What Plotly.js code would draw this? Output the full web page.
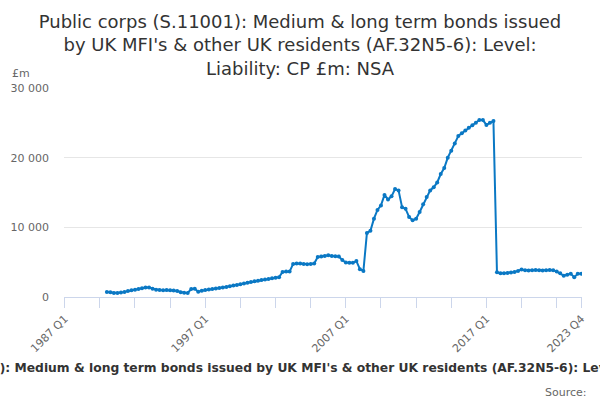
<!DOCTYPE html>
<html>
<head>
<meta charset="utf-8">
<script src="https://cdn.plot.ly/plotly-3.0.1.min.js"></script>
<style>
  html, body { margin: 0; padding: 0; background: #fff; }
  #chart { width: 600px; height: 400px; }
</style>
</head>
<body>
<div id="chart"></div>
<script>
// quarter labels on the axis, 1987 Q1 .. 2023 Q4
const firstYear = 1987, lastYear = 2023;
const quarters = [];
for (let y = firstYear; y <= lastYear; y++) for (let q = 1; q <= 4; q++) quarters.push(y + ' Q' + q);

// series starts in 1990 Q1, values in £m, one row per year
const seriesStart = '1990 Q1';
const level = [
  720, 670, 590, 560,        // 1990
  630, 720, 850, 980,        // 1991
  1050, 1150, 1250, 1380,    // 1992
  1380, 1200, 1050, 1000,    // 1993
  980, 990, 960, 930,        // 1994
  850, 680, 620, 580,        // 1995
  1150, 1180, 760, 900,      // 1996
  1000, 1080, 1150, 1230,    // 1997
  1300, 1380, 1450, 1550,    // 1998
  1650, 1730, 1830, 1950,    // 1999
  2050, 2150, 2250, 2350,    // 2000
  2450, 2500, 2600, 2680,    // 2001
  2750, 2850, 3600, 3650,    // 2002
  3650, 4750, 4800, 4800,    // 2003
  4750, 4700, 4750, 4800,    // 2004
  5750, 5800, 5900, 6000,    // 2005
  5900, 5850, 5800, 5300,    // 2006
  4950, 4900, 4900, 5150,    // 2007
  4000, 3750, 9200, 9500,    // 2008
  11250, 12500, 13150, 14650,// 2009
  14000, 14450, 15500, 15300,// 2010
  12900, 12650, 11500, 11000,// 2011
  11250, 12200, 13300, 14350,// 2012
  15300, 15750, 16450, 17650,// 2013
  18500, 20000, 21000, 22050,// 2014
  23100, 23500, 23900, 24300,// 2015
  24650, 25000, 25400, 25400,// 2016
  24700, 25000, 25250, 3550, // 2017
  3420, 3420, 3450, 3500,    // 2018
  3600, 3750, 3950, 3850,    // 2019
  3800, 3850, 3880, 3850,    // 2020
  3800, 3850, 3880, 3850,    // 2021
  3650, 3400, 3050, 3200,    // 2022
  3320, 2850, 3320, 3320     // 2023
];

const yTicks = [0, 10000, 20000, 30000];
const labelledTicks = ['1987 Q1', '1997 Q1', '2007 Q1', '2017 Q1', '2023 Q4'];

const seriesName = "Public corps (S.11001): Medium & long term bonds issued by UK MFI's & other UK residents (AF.32N5-6): Level: Liability: CP £m: NSA";
const titleText = "Public corps (S.11001): Medium & long term bonds issued<br>by UK MFI's & other UK residents (AF.32N5-6): Level:<br>Liability: CP £m: NSA";

const x = quarters.slice(quarters.indexOf(seriesStart), quarters.indexOf(seriesStart) + level.length);

// tick marks every 10 quarters, plus the last quarter
const tickvals = quarters.filter((q, i) => i % 10 === 0);
tickvals.push(quarters[quarters.length - 1]);
const ticktext = tickvals.map(t => labelledTicks.includes(t) ? t : '');

const blue = '#0a78c4';
const trace = {
  type: 'scatter', mode: 'lines+markers', x: x, y: level, name: seriesName,
  line: {color: blue, width: 2},
  marker: {color: blue, size: 4},
  hovertemplate: '%{x}: %{y:,}<extra></extra>'
};

const layout = {
  width: 600, height: 400,
  margin: {l: 64, r: 18, t: 88, b: 102.5},
  paper_bgcolor: '#fff', plot_bgcolor: '#fff',
  font: {family: 'DejaVu Sans, sans-serif', color: '#666', size: 11},
  separators: '. ',
  showlegend: false,
  title: {
    text: titleText, x: 0.5, xanchor: 'center', y: 0.93, yanchor: 'top',
    font: {size: 18, color: '#333'}
  },
  xaxis: {
    type: 'category', categoryorder: 'array', categoryarray: quarters,
    range: [-0.2, quarters.length - 1 + 0.2],
    tickmode: 'array', tickvals: tickvals, ticktext: ticktext,
    tickangle: -45, ticks: 'outside', ticklen: 10, tickcolor: '#ccd6eb',
    showline: true, linecolor: '#ccd6eb', linewidth: 1,
    showgrid: false, zeroline: false,
    tickfont: {size: 11, color: '#666'}
  },
  yaxis: {
    range: [0, 30000], tickvals: yTicks, tickformat: ',',
    gridcolor: '#e6e6e6', zeroline: false, showline: false,
    ticks: '', ticklabelstandoff: 14,
    tickfont: {size: 11, color: '#666'}
  },
  annotations: [
    {text: '£m', xref: 'paper', yref: 'paper', x: -0.104, y: 1.067, xanchor: 'left', yanchor: 'middle',
     showarrow: false, font: {size: 11, color: '#666'}},
    {text: '<b>' + seriesName + '</b>', xref: 'paper', yref: 'paper', x: 0.478, y: -0.338,
     xanchor: 'center', yanchor: 'middle', showarrow: false, font: {size: 12.3, color: '#333'}},
    {text: 'Source:', xref: 'paper', yref: 'paper', x: 1.0135, y: -0.455, xanchor: 'right', yanchor: 'middle',
     showarrow: false, font: {size: 11, color: '#666'}}
  ]
};

Plotly.newPlot('chart', [trace], layout, {displayModeBar: false, staticPlot: true});
</script>
</body>
</html>
